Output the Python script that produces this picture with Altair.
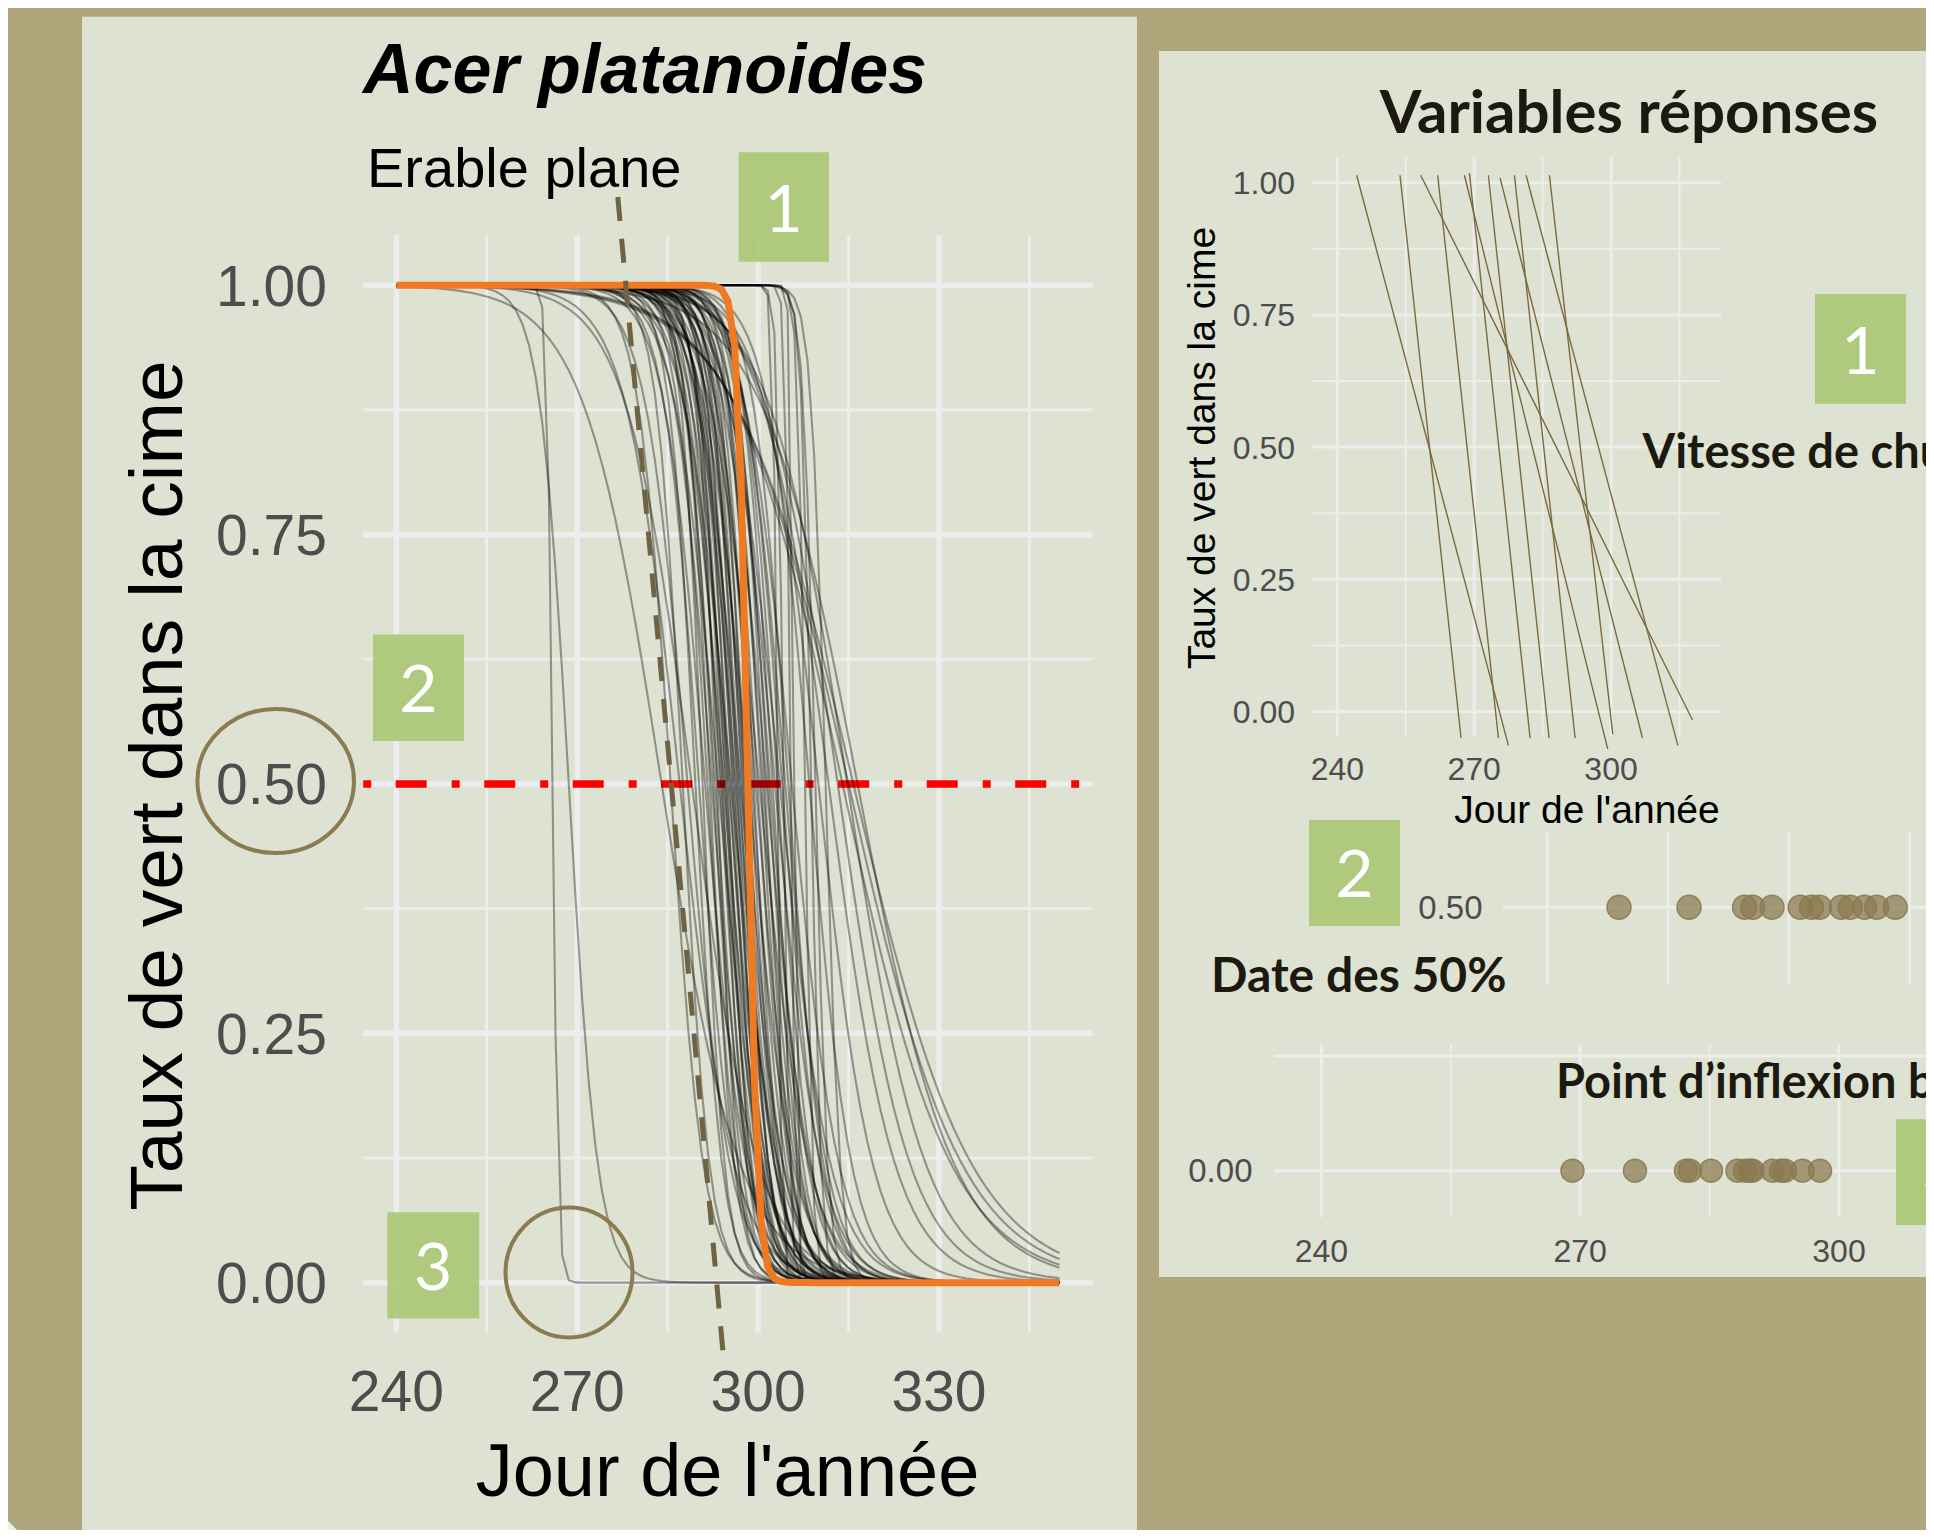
import math
import altair as alt
import pandas as pd

# ---------------- data ----------------
# Left panel: individual logistic fits (day of 50 %, scale in days)
curve_mid = [289.6, 290.2, 290.8, 291.2, 291.6, 292.0, 292.3, 292.6, 292.9, 293.2,
             293.4, 293.7, 293.9, 294.1, 294.3, 294.5, 294.7, 294.9, 295.1, 295.3,
             295.5, 295.7, 295.9, 296.1, 296.3, 296.5, 296.7, 296.9, 297.1, 297.3,
             297.5, 297.7, 297.9, 298.1, 298.4, 298.7, 299.0, 299.3, 299.6, 299.9,
             300.2, 300.5, 300.8, 301.1, 301.4, 301.7, 302.0, 302.4, 302.8, 303.2,
             303.6, 304.0, 304.5, 305.0, 305.6,
             303.2, 305.4, 306.0, 307.8, 308.8, 309.5, 311.2, 304.2,
             308.5, 310.0, 311.7, 313.2, 314.8, 316.5,
             314.0, 315.0, 315.8,
             265.9, 268.6, 285.5, 287.5, 288.3, 284.0, 289.0, 287.0]
curve_scale = [2.2, 2.9, 1.8, 3.4, 2.5, 2.0, 3.1, 2.3, 2.6, 1.7,
               3.6, 2.4, 2.8, 2.0, 3.3, 2.2, 2.6, 1.9, 3.1, 2.5,
               3.9, 2.1, 2.7, 2.3, 3.2, 2.0, 3.0, 2.4, 3.5, 2.2,
               2.6, 2.0, 3.1, 2.5, 3.7, 2.3, 2.8, 2.1, 3.3, 2.6,
               4.1, 2.4, 2.9, 2.2, 3.6, 2.6, 3.1, 2.5, 3.8, 2.8,
               4.2, 3.1, 3.4, 2.9, 3.9,
               0.35, 0.4, 0.3, 0.6, 0.8, 1.0, 1.2, 0.5,
               3.5, 4.5, 5.5, 6.0, 6.5, 8.0,
               9.0, 9.4, 9.8,
               0.45, 2.4, 2.7, 2.2, 3.5, 6.5, 5.5, 4.5]
mean_mid = 298.3
mean_scale = 0.8
day_start, day_step, n_days = 240.0, 1.1, 101

main_x_major = [240, 270, 300, 330]
main_x_minor = [255, 285, 315, 345]
main_y_major = [0.0, 0.25, 0.5, 0.75, 1.0]
main_y_minor = [0.125, 0.375, 0.625, 0.875]
main_y_labels = ["0.00", "0.25", "0.50", "0.75", "1.00"]
threshold = 0.5

# Right panel: "vitesse de chute" segments
seg_top_day = [244.24, 253.74, 258.27, 262.00, 267.85, 268.95, 273.11, 275.67, 278.82, 281.37, 286.49]
seg_top_val = [1.014, 1.014, 1.014, 1.014, 1.014, 1.018, 1.014, 1.009, 1.014, 1.014, 1.014]
seg_bot_day = [277.50, 267.12, 317.85, 275.31, 299.28, 282.25, 286.42, 306.89, 292.12, 314.64, 300.38]
seg_bot_val = [-0.064, -0.05, -0.016, -0.05, -0.071, -0.05, -0.05, -0.05, -0.05, -0.064, -0.043]
small_x_major = [240, 270, 300]
small_x_minor = [255, 285, 315]

# Right panel: dates of 50 % and lower inflection points
date50_days = [248.9, 257.6, 264.5, 265.5, 267.9, 271.4, 272.8, 273.8, 276.5, 277.6, 279.4, 280.9, 283.2]
inflex_days = [269.1, 276.35, 282.26, 282.72, 285.16, 288.23, 289.1, 289.68, 289.97,
               292.29, 293.28, 293.74, 295.77, 297.8]
strip2_grid = [240, 255, 270, 285]
strip3_grid_major = [240, 270, 300]
strip3_grid_minor = [255, 285]

# ---------------- styles ----------------
BG = "#b0a67c"
PANEL = "#dee2d2"
GRID = "#ededed"
TICK = "#4d4d4d"
GREEN = "#aac873"
BROWN = "#8b7b50"
DASH = "#6f6343"
LINE_BROWN = "#7b6a40"
DOT = "#8a7a50"
SANS = "Liberation Sans"
HUM = "Lato"

W, H = 1918, 1522
one = pd.DataFrame({"a": [0]})


def sc(domain, rng):
    return alt.Scale(domain=domain, range=rng, zero=False, nice=False)


main_x = sc([234.5, 355.5], [355.2, 1084.7])
main_y = sc([-0.05, 1.05], [1324.5, 227.3])
sm_x = sc([234.56, 324.1], [1304.5, 1713.0])
sm_y = sc([-0.047, 1.048], [728.4, 149.3])
s2_x = sc([234.5, 290.0], [1495.0, 1942.0])
s2_y = sc([0.45, 0.55], [977.0, 821.6])
s3_x = sc([234.5, 312.0], [1266.0, 1934.5])
s3_y = sc([-0.0101, 0.0274], [1209.0, 1037.0])

layers = []


def rect(x1, y1, x2, y2, color, opacity=1.0):
    return alt.Chart(one).mark_rect(color=color, opacity=opacity).encode(
        x=alt.value(x1), x2=alt.value(x2), y=alt.value(y1), y2=alt.value(y2))


def text(t, x, y, size, font=SANS, align="left", weight="normal", style="normal",
         color="black", angle=0):
    return alt.Chart(one).mark_text(
        text=t, font=font, fontSize=size, align=align, baseline="alphabetic",
        fontWeight=weight, fontStyle=style, color=color, angle=angle).encode(
        x=alt.value(x), y=alt.value(y))


def vgrid(vals, xs, y1, y2, width):
    df = pd.DataFrame({"v": vals})
    return alt.Chart(df).mark_rule(color=GRID, strokeWidth=width).encode(
        x=alt.X("v:Q", scale=xs, axis=None), y=alt.value(y1), y2=alt.value(y2))


def hgrid(vals, ys, x1, x2, width):
    df = pd.DataFrame({"v": vals})
    return alt.Chart(df).mark_rule(color=GRID, strokeWidth=width).encode(
        y=alt.Y("v:Q", scale=ys, axis=None), x=alt.value(x1), x2=alt.value(x2))


def ellipse(cx, cy, rx, ry, width=4):
    r = ry / rx
    path = f"M-1,0A1,{r:.4f},0,1,1,1,0A1,{r:.4f},0,1,1,-1,0Z"
    return alt.Chart(one).mark_point(shape=path, size=(2 * rx) ** 2, filled=False,
                                     stroke=BROWN, strokeWidth=width, opacity=1).encode(
        x=alt.value(cx), y=alt.value(cy))


def box(x1, y1, x2, y2, num):
    cx = (x1 + x2) / 2
    base = y1 + (y2 - y1) * 0.73
    return [rect(x1, y1, x2, y2, GREEN, 0.9),
            text(num, cx, base, 66, font=HUM, align="center", color="white")]


# ---------------- panels ----------------
layers.append(rect(74, 8.7, 1129, 1540, PANEL))
layers.append(rect(1151, 43, 1940, 1269, PANEL))
layers.append(alt.Chart(one).mark_point(shape="M-1,-1L-1,1L1,1Z", size=25 ** 2, filled=True,
                                        color="#eef0ea", opacity=1, strokeWidth=0).encode(
    x=alt.value(4.5), y=alt.value(1517.5)))

# ---------------- main plot ----------------
layers.append(vgrid(main_x_minor, main_x, 227.3, 1324.5, 3))
layers.append(vgrid(main_x_major, main_x, 227.3, 1324.5, 5.5))
layers.append(hgrid(main_y_minor, main_y, 355.2, 1084.7, 3))
layers.append(hgrid(main_y_major, main_y, 355.2, 1084.7, 5.5))

red_df = pd.DataFrame({"x0": [234.5], "x1": [355.5], "y": [threshold]})
layers.append(alt.Chart(red_df).mark_rule(color="#ff0000", strokeWidth=7.5,
                                          strokeDash=[8, 24.5, 31, 25]).encode(
    x=alt.X("x0:Q", scale=main_x, axis=None), x2="x1:Q",
    y=alt.Y("y:Q", scale=main_y, axis=None)))

days = [day_start + day_step * k for k in range(n_days)]


def logistic(d, m, s):
    z = max(min((d - m) / s, 60.0), -60.0)
    return 1.0 / (1.0 + math.exp(z))


rows = []
for i, (m, s) in enumerate(zip(curve_mid, curve_scale)):
    for d in days:
        rows.append({"id": i, "day": d, "val": logistic(d, m, s)})
curves = pd.DataFrame(rows)
layers.append(alt.Chart(curves).mark_line(color="black", opacity=0.36, strokeWidth=2.1).encode(
    x=alt.X("day:Q", scale=main_x, axis=None),
    y=alt.Y("val:Q", scale=main_y, axis=None),
    detail="id:N"))

mean_df = pd.DataFrame({"day": days, "val": [logistic(d, mean_mid, mean_scale) for d in days]})
layers.append(alt.Chart(mean_df).mark_line(color="#ef7a22", strokeWidth=7).encode(
    x=alt.X("day:Q", scale=main_x, axis=None),
    y=alt.Y("val:Q", scale=main_y, axis=None)))

# tick labels
ylab = pd.DataFrame({"v": main_y_major, "lab": main_y_labels})
layers.append(alt.Chart(ylab).mark_text(align="right", baseline="alphabetic", dy=20.4,
                                        fontSize=57, font=SANS, color=TICK).encode(
    y=alt.Y("v:Q", scale=main_y, axis=None), x=alt.value(319), text="lab:N"))
xlab = pd.DataFrame({"v": main_x_major, "lab": [str(v) for v in main_x_major]})
layers.append(alt.Chart(xlab).mark_text(align="center", baseline="alphabetic",
                                        fontSize=57, font=SANS, color=TICK).encode(
    x=alt.X("v:Q", scale=main_x, axis=None), y=alt.value(1403), text="lab:N"))

layers.append(text("Jour de l'année", 719.5, 1488, 74, align="center"))
layers.append(text("Taux de vert dans la cime", 174, 777.5, 75, align="center", angle=270))
layers.append(text("Acer platanoides", 637, 85.3, 70, align="center", weight="bold", style="italic"))
layers.append(text("Erable plane", 359, 178.7, 56))

# dashed pointer
layers.append(alt.Chart(one).mark_rule(color=DASH, strokeWidth=5, strokeDash=[24, 18]).encode(
    x=alt.value(609.8), y=alt.value(189), x2=alt.value(716), y2=alt.value(1355)))

layers += box(730.5, 144.3, 821, 253.7, "1")
layers += box(365, 626.6, 456, 733, "2")
layers += box(379.3, 1204.3, 471.2, 1310.6, "3")
layers.append(ellipse(267.7, 773, 78.3, 72))
layers.append(ellipse(561, 1264.5, 63.5, 65))

# ---------------- right panel: segments plot ----------------
layers.append(vgrid(small_x_minor, sm_x, 149.3, 728.4, 2))
layers.append(vgrid(small_x_major, sm_x, 149.3, 728.4, 3))
layers.append(hgrid(main_y_minor, sm_y, 1304.5, 1713, 2))
layers.append(hgrid(main_y_major, sm_y, 1304.5, 1713, 3))
seg = pd.DataFrame({"td": seg_top_day, "tv": seg_top_val, "bd": seg_bot_day, "bv": seg_bot_val})
layers.append(alt.Chart(seg).mark_rule(color=LINE_BROWN, strokeWidth=1.4).encode(
    x=alt.X("td:Q", scale=sm_x, axis=None), x2="bd:Q",
    y=alt.Y("tv:Q", scale=sm_y, axis=None), y2="bv:Q"))
layers.append(alt.Chart(ylab).mark_text(align="right", baseline="alphabetic", dy=11.5,
                                        fontSize=32, font=SANS, color=TICK).encode(
    y=alt.Y("v:Q", scale=sm_y, axis=None), x=alt.value(1287), text="lab:N"))
sxlab = pd.DataFrame({"v": small_x_major, "lab": [str(v) for v in small_x_major]})
layers.append(alt.Chart(sxlab).mark_text(align="center", baseline="alphabetic",
                                         fontSize=32, font=SANS, color=TICK).encode(
    x=alt.X("v:Q", scale=sm_x, axis=None), y=alt.value(771.8), text="lab:N"))
layers.append(text("Jour de l'année", 1579, 815, 39, align="center"))
layers.append(text("Taux de vert dans la cime", 1207, 440, 39, align="center", angle=270))
layers.append(text("Variables réponses", 1621, 124.5, 60, font=HUM, align="center", weight="bold",
                   color="#1c1a10"))
layers += box(1807, 286, 1898, 395.8, "1")
layers.append(text("Vitesse de chute", 1634.5, 459.6, 47, font=HUM, weight="bold", color="#1c1a10"))

# ---------------- strip 2: date des 50 % ----------------
layers.append(vgrid(strip2_grid, s2_x, 825, 977, 2.5))
layers.append(hgrid([0.5], s2_y, 1495, 1930, 3))
d50 = pd.DataFrame({"d": date50_days, "y": [0.5] * len(date50_days)})
layers.append(alt.Chart(d50).mark_circle(size=576, color=DOT, fillOpacity=0.72, stroke=DOT,
                                         strokeOpacity=0.9, strokeWidth=1.5).encode(
    x=alt.X("d:Q", scale=s2_x, axis=None), y=alt.Y("y:Q", scale=s2_y, axis=None)))
lab2 = pd.DataFrame({"v": [0.5], "lab": ["0.50"]})
layers.append(alt.Chart(lab2).mark_text(align="right", baseline="alphabetic", dy=11.8,
                                        fontSize=33, font=SANS, color=TICK).encode(
    y=alt.Y("v:Q", scale=s2_y, axis=None), x=alt.value(1474.5), text="lab:N"))
layers += box(1301, 812, 1392, 918, "2")
layers.append(text("Date des 50%", 1203, 983.7, 48, font=HUM, weight="bold", color="#1c1a10"))

# ---------------- strip 3: point d'inflexion ----------------
layers.append(vgrid(strip3_grid_minor, s3_x, 1037, 1209, 2))
layers.append(vgrid(strip3_grid_major, s3_x, 1037, 1209, 3))
layers.append(hgrid([0.0, 0.025], s3_y, 1266, 1930, 3))
inf = pd.DataFrame({"d": inflex_days, "y": [0.0] * len(inflex_days)})
layers.append(alt.Chart(inf).mark_circle(size=529, color=DOT, fillOpacity=0.72, stroke=DOT,
                                         strokeOpacity=0.9, strokeWidth=1.5).encode(
    x=alt.X("d:Q", scale=s3_x, axis=None), y=alt.Y("y:Q", scale=s3_y, axis=None)))
lab3 = pd.DataFrame({"v": [0.0], "lab": ["0.00"]})
layers.append(alt.Chart(lab3).mark_text(align="right", baseline="alphabetic", dy=11.8,
                                        fontSize=33, font=SANS, color=TICK).encode(
    y=alt.Y("v:Q", scale=s3_y, axis=None), x=alt.value(1244.5), text="lab:N"))
s3lab = pd.DataFrame({"v": strip3_grid_major, "lab": [str(v) for v in strip3_grid_major]})
layers.append(alt.Chart(s3lab).mark_text(align="center", baseline="alphabetic",
                                         fontSize=32, font=SANS, color=TICK).encode(
    x=alt.X("v:Q", scale=s3_x, axis=None), y=alt.value(1253.7), text="lab:N"))
layers.append(text("Point d\u2019inflexion bas", 1548, 1090.3, 47, font=HUM, weight="bold",
                   color="#1c1a10"))
layers += box(1888, 1111.3, 1979, 1217, "3")

chart = alt.layer(*layers).resolve_scale(x="independent", y="independent").properties(
    width=W, height=H, background=BG, padding=0,
    autosize=alt.AutoSizeParams(type="none")).configure_view(stroke=None)

chart.save("out.html", embed_options={"renderer": "svg", "actions": False})
